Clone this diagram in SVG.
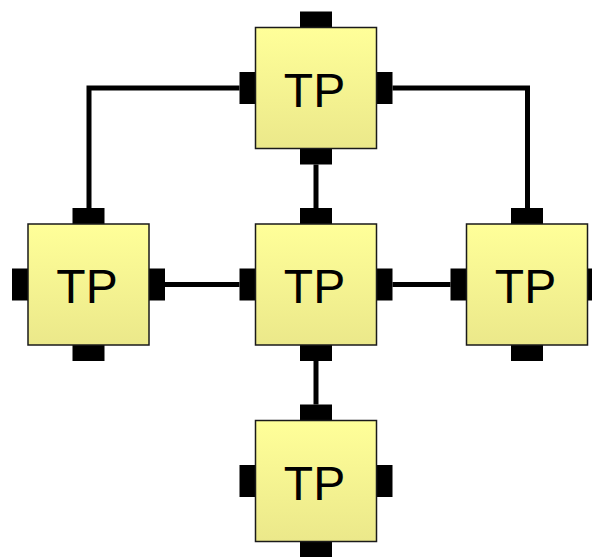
<svg xmlns="http://www.w3.org/2000/svg" width="592" height="557" viewBox="0 0 592 557">
<defs>
<linearGradient id="fill" x1="0" y1="0" x2="0" y2="1">
<stop offset="0" stop-color="#ffff99"/>
<stop offset="1" stop-color="#ebe88a"/>
</linearGradient>
</defs>
<style>
.box{fill:url(#fill);stroke:#1a1a1a;stroke-width:1.5}
.port{fill:#000}
.lbl{font-family:"Liberation Sans",Arial,sans-serif;font-size:48px;fill:#000;text-anchor:middle}
.wire{fill:none;stroke:#000;stroke-width:5}
</style>
<rect width="592" height="557" fill="#fff"/>
<g id="connectors">
<path class="wire" d="M239.5 88 H89 V208"/>
<path class="wire" d="M392.5 88 H527.5 V208"/>
<path class="wire" d="M316 164.5 V208"/>
<path class="wire" d="M165 284.5 H239.5"/>
<path class="wire" d="M392.5 284.5 H450.5"/>
<path class="wire" d="M316 361 V404.5"/>
</g>
<g id="tp-top">
<rect class="port" x="300" y="11.5" width="32" height="16"/>
<rect class="port" x="239.5" y="72" width="16" height="32"/>
<rect class="port" x="376.5" y="72" width="16" height="32"/>
<rect class="port" x="300" y="148.5" width="32" height="16"/>
<rect class="box" x="255.5" y="27.5" width="121" height="121"/>
<text class="lbl" x="314.5" y="106.5">TP</text>
</g>
<g id="tp-left">
<rect class="port" x="72.5" y="208" width="32" height="16"/>
<rect class="port" x="12" y="268.5" width="16" height="32"/>
<rect class="port" x="149" y="268.5" width="16" height="32"/>
<rect class="port" x="72.5" y="345" width="32" height="16"/>
<rect class="box" x="28" y="224" width="121" height="121"/>
<text class="lbl" x="87" y="303">TP</text>
</g>
<g id="tp-middle">
<rect class="port" x="300" y="208" width="32" height="16"/>
<rect class="port" x="239.5" y="268.5" width="16" height="32"/>
<rect class="port" x="376.5" y="268.5" width="16" height="32"/>
<rect class="port" x="300" y="345" width="32" height="16"/>
<rect class="box" x="255.5" y="224" width="121" height="121"/>
<text class="lbl" x="314.5" y="303">TP</text>
</g>
<g id="tp-right">
<rect class="port" x="511" y="208" width="32" height="16"/>
<rect class="port" x="450.5" y="268.5" width="16" height="32"/>
<rect class="port" x="587.5" y="268.5" width="16" height="32"/>
<rect class="port" x="511" y="345" width="32" height="16"/>
<rect class="box" x="466.5" y="224" width="121" height="121"/>
<text class="lbl" x="525.5" y="303">TP</text>
</g>
<g id="tp-bottom">
<rect class="port" x="300" y="404.5" width="32" height="16"/>
<rect class="port" x="239.5" y="465" width="16" height="32"/>
<rect class="port" x="376.5" y="465" width="16" height="32"/>
<rect class="port" x="300" y="541.5" width="32" height="16"/>
<rect class="box" x="255.5" y="420.5" width="121" height="121"/>
<text class="lbl" x="314.5" y="499.5">TP</text>
</g>
</svg>
